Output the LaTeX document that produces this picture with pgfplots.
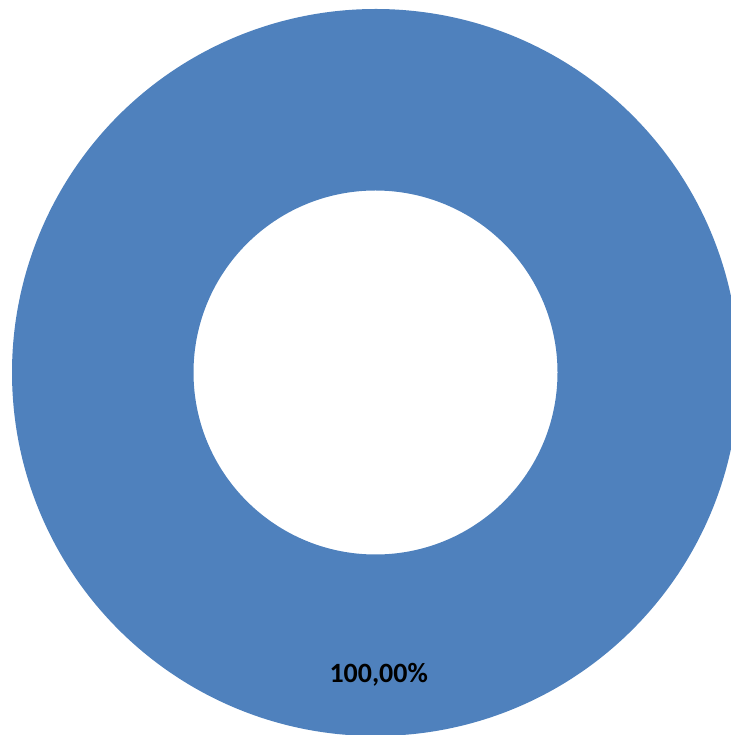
\documentclass[border=0pt]{standalone}
\usepackage{pgfplots}
\pgfplotsset{compat=1.18}
\usepackage{pgfplotstable}
\usepackage{fontspec}
\setmainfont{Carlito}
\definecolor{donutblue}{HTML}{4F81BD}

% one slice only
\pgfplotstableread{
label share
A 100
}\sharetable

\begin{document}
\begin{tikzpicture}
\pgfplotstablegetelem{0}{share}\of\sharetable
\let\share\pgfplotsretval
% geometry in picture units (1 unit = 1bp)
\def\cx{375.5}\def\cy{362.5}\def\ro{363.5}\def\ri{182}
\pgfmathsetmacro\ang{90-3.6*\share}
\pgfmathsetmacro\ix{\cx+\ri*cos(\ang)}
\pgfmathsetmacro\iy{\cy+\ri*sin(\ang)}
\begin{axis}[
    hide axis,
    scale only axis,
    width=731bp, height=735bp,
    xmin=0, xmax=731, ymin=0, ymax=735,
]
\fill[donutblue] (axis cs:\cx,\cy+\ro)
    arc[start angle=90, delta angle={-3.6*\share}, radius=\ro bp]
    -- (axis cs:\ix,\iy)
    arc[start angle=\ang, delta angle={3.6*\share}, radius=\ri bp]
    -- cycle;
\node[anchor=base, font=\bfseries\fontsize{28}{33}\selectfont]
    at (axis cs:378.7,52.3)
    {\pgfmathprintnumber[fixed,fixed zerofill,precision=2,use comma,assume math mode=true]{\share}\%};
\end{axis}
\pgfresetboundingbox
\useasboundingbox (0,0) rectangle (731bp,735bp);
\end{tikzpicture}
\end{document}
